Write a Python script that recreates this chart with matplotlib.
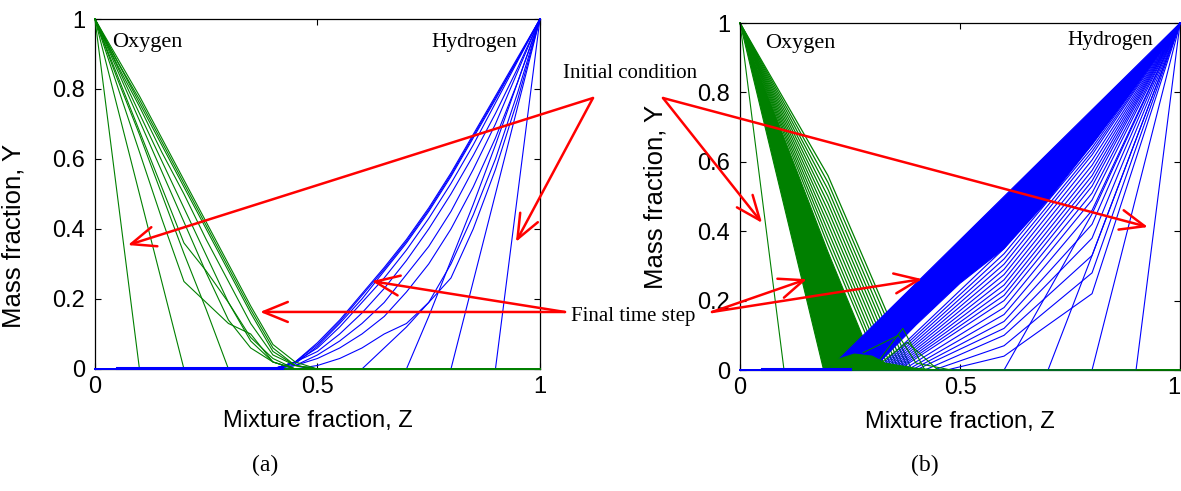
import matplotlib
matplotlib.use('Agg')
import matplotlib.pyplot as plt

# ---------------- panel (a) ----------------
# oxygen mass fraction, Y at these mixture fraction nodes
z_oxy_a = [0, 0.05, 0.1, 0.15, 0.2, 0.25, 0.3, 0.35, 0.4, 0.45, 0.5, 1.0]
oxy_a = [
    [1.00, 0.50, 0.00, 0.00, 0.00, 0.00, 0.00, 0.00, 0.00, 0.00, 0.00, 0.00],
    [1.00, 0.75, 0.50, 0.25, 0.00, 0.00, 0.00, 0.00, 0.00, 0.00, 0.00, 0.00],
    [1.00, 0.83, 0.67, 0.50, 0.33, 0.17, 0.00, 0.00, 0.00, 0.00, 0.00, 0.00],
    [1.00, 0.81, 0.62, 0.43, 0.25, 0.19, 0.13, 0.10, 0.02, 0.00, 0.00, 0.00],
    [1.00, 0.84, 0.68, 0.52, 0.36, 0.28, 0.19, 0.09, 0.03, 0.00, 0.00, 0.00],
    [1.00, 0.855, 0.71, 0.565, 0.42, 0.275, 0.14, 0.06, 0.02, 0.00, 0.00, 0.00],
    [1.00, 0.865, 0.73, 0.595, 0.46, 0.325, 0.19, 0.08, 0.02, 0.00, 0.00, 0.00],
    [1.00, 0.87, 0.75, 0.62, 0.50, 0.37, 0.25, 0.13, 0.04, 0.01, 0.00, 0.00],
    [1.00, 0.88, 0.76, 0.64, 0.52, 0.40, 0.28, 0.16, 0.05, 0.01, 0.00, 0.00],
    [1.00, 0.88, 0.77, 0.65, 0.53, 0.41, 0.29, 0.17, 0.06, 0.01, 0.00, 0.00],
    [1.00, 0.89, 0.78, 0.66, 0.54, 0.42, 0.30, 0.18, 0.07, 0.02, 0.00, 0.00],
]

# hydrogen mass fraction
z_hyd_a = [0, 0.4, 0.45, 0.5, 0.55, 0.6, 0.65, 0.7, 0.75, 0.8, 0.85, 0.9, 0.95, 1.0]
hyd_a = [
    [0, 0, 0, 0, 0, 0, 0, 0, 0, 0, 0, 0, 0.50, 1],
    [0, 0, 0, 0, 0, 0, 0, 0, 0, 0, 0.25, 0.50, 0.75, 1],
    [0, 0, 0, 0, 0, 0, 0, 0, 0.15, 0.31, 0.47, 0.64, 0.82, 1],
    [0, 0, 0, 0, 0, 0, 0.06, 0.12, 0.19, 0.26, 0.40, 0.57, 0.77, 1],
    [0, 0, 0, 0.01, 0.03, 0.06, 0.10, 0.13, 0.19, 0.30, 0.44, 0.60, 0.79, 1],
    [0, 0, 0.01, 0.03, 0.06, 0.10, 0.15, 0.22, 0.30, 0.40, 0.52, 0.66, 0.82, 1],
    [0, 0, 0.01, 0.04, 0.08, 0.13, 0.19, 0.27, 0.35, 0.45, 0.57, 0.70, 0.85, 1],
    [0, 0, 0.02, 0.05, 0.10, 0.16, 0.23, 0.31, 0.40, 0.50, 0.61, 0.73, 0.86, 1],
    [0, 0, 0.02, 0.06, 0.12, 0.19, 0.26, 0.34, 0.43, 0.53, 0.64, 0.76, 0.88, 1],
    [0, 0, 0.015, 0.065, 0.13, 0.20, 0.28, 0.36, 0.45, 0.55, 0.66, 0.77, 0.885, 1],
    [0, 0, 0.02, 0.07, 0.135, 0.21, 0.285, 0.365, 0.455, 0.555, 0.665, 0.775, 0.885, 1],
    [0, 0, 0.02, 0.075, 0.14, 0.215, 0.29, 0.37, 0.46, 0.56, 0.67, 0.78, 0.89, 1],
]
hyd_floor_a_z = [0.05, 0.42]
hyd_floor_a_y = [0.004, 0.004]

# ---------------- panel (b) ----------------
oxy_init_b_z = [0, 0.1, 1.0]
oxy_init_b_y = [1, 0, 0]
# solid part of the oxygen band
oxy_band_b_z = [0.0, 0.20, 0.31, 0.19]
oxy_band_b_y = [1.0, 0.34, 0.00, 0.00]
# striped part: Y at Z=0.2 and end point
oxy_stripe_y02 = [0.36, 0.38, 0.40, 0.42, 0.44, 0.46, 0.48, 0.50, 0.52, 0.54, 0.56]
oxy_stripe_end = [0.320, 0.326, 0.333, 0.340, 0.347, 0.354, 0.361, 0.368, 0.375, 0.383, 0.390]
oxy_mound_z = [0.20, 0.22, 0.26, 0.30, 0.33, 0.40, 0.45]
oxy_mound_y = [0.00, 0.03, 0.046, 0.04, 0.02, 0.005, 0.0]
oxy_tents_b = [
    ([0.30, 0.37, 0.42], [0.0, 0.12, 0.0]),
    ([0.32, 0.38, 0.45], [0.02, 0.08, 0.0]),
    ([0.28, 0.36, 0.40, 0.48], [0.05, 0.10, 0.02, 0.0]),
]
oxy_floor_b_z = [0.19, 1.0]
oxy_floor_b_y = [0.0, 0.0]

# solid hydrogen wedge
hyd_wedge_b_z = [0.20, 1.00, 0.90, 0.80, 0.70, 0.60, 0.50, 0.40, 0.30]
hyd_wedge_b_y = [0.00, 1.00, 0.82, 0.65, 0.49, 0.35, 0.25, 0.13, 0.00]
# individual hydrogen curves: start point, Y at Z=0.6, Y at Z=0.8
hyd_b_start = [0.90, 0.80, 0.70, 0.60, 0.47, 0.44, 0.42, 0.40, 0.39, 0.38, 0.37,
               0.36, 0.355, 0.35, 0.345, 0.34, 0.335, 0.33, 0.325, 0.32, 0.315, 0.31]
hyd_b_y06 = [0, 0, 0, 0, 0.04, 0.07, 0.10, 0.12, 0.14, 0.16, 0.18,
             0.20, 0.215, 0.23, 0.245, 0.26, 0.275, 0.29, 0.305, 0.32, 0.335, 0.35]
hyd_b_y08 = [0, 0, 0.33, 0.45, 0.22, 0.28, 0.33, 0.38, 0.42, 0.46, 0.49,
             0.51, 0.53, 0.545, 0.56, 0.575, 0.59, 0.605, 0.62, 0.63, 0.64, 0.65]
hyd_floor_b_z = [0.05, 0.25]
hyd_floor_b_y = [0.004, 0.004]

GREEN = '#008000'
BLUE = '#0000ff'
RED = '#ff0000'
SANS = 'Liberation Sans'
SERIF = 'Liberation Serif'

fig = plt.figure(figsize=(11.81, 4.91), dpi=100)
ax_a = fig.add_axes([0.0804, 0.2485, 0.3768, 0.7128])
ax_b = fig.add_axes([0.6266, 0.2464, 0.3726, 0.7067])


def style_axes(ax, ylab_x, ylab_y):
    ax.set_xlim(0, 1)
    ax.set_ylim(0, 1)
    ax.set_xticks([0, 0.5, 1])
    ax.set_xticklabels(['0', '0.5', '1'])
    ax.set_yticks([0, 0.2, 0.4, 0.6, 0.8, 1])
    ax.set_yticklabels(['0', '0.2', '0.4', '0.6', '0.8', '1'])
    ax.tick_params(direction='in', top=True, right=True, length=4, width=0.8,
                   labelsize=17, pad=7)
    ax.tick_params(axis='x', pad=5)
    for lab in ax.get_xticklabels() + ax.get_yticklabels():
        lab.set_family(SANS)
    for sp in ax.spines.values():
        sp.set_linewidth(0.9)
    ax.set_xlabel('Mixture fraction, Z', fontsize=17, family=SANS, labelpad=9)
    ax.set_ylabel('Mass fraction, Y', fontsize=18.5, family=SANS)
    ax.yaxis.set_label_coords(ylab_x, ylab_y)


def line(ax, z, y, color, lw=0.8, zorder=3):
    ax.plot(z, y, color=color, lw=lw, zorder=zorder, clip_on=False)


# panel (a)
for ys in hyd_a:
    line(ax_a, z_hyd_a, ys, BLUE, zorder=3)
for ys in oxy_a:
    line(ax_a, z_oxy_a, ys, GREEN, zorder=4)
line(ax_a, hyd_floor_a_z, hyd_floor_a_y, BLUE, lw=2.2, zorder=5)
style_axes(ax_a, -0.155, 0.38)

# panel (b)
ax_b.fill(oxy_band_b_z, oxy_band_b_y, color=GREEN, lw=0.8, zorder=2)
line(ax_b, oxy_init_b_z, oxy_init_b_y, GREEN, zorder=2)
for y2, e in zip(oxy_stripe_y02, oxy_stripe_end):
    line(ax_b, [0, 0.2, e, 1.0], [1, y2, 0, 0], GREEN, lw=0.9, zorder=2)
ax_b.fill(hyd_wedge_b_z, hyd_wedge_b_y, color=BLUE, lw=0.8, zorder=3)
for s, y6, y8 in zip(hyd_b_start, hyd_b_y06, hyd_b_y08):
    zs, ys = [0, s], [0, 0]
    for zn, yn in ((0.6, y6), (0.8, y8)):
        if zn > s:
            zs.append(zn)
            ys.append(yn)
    zs.append(1.0)
    ys.append(1.0)
    line(ax_b, zs, ys, BLUE, lw=0.8, zorder=3)
ax_b.fill(oxy_mound_z, oxy_mound_y, color=GREEN, lw=0.8, zorder=4)
for zs, ys in oxy_tents_b:
    line(ax_b, zs, ys, GREEN, zorder=4)
line(ax_b, oxy_floor_b_z, oxy_floor_b_y, GREEN, lw=1.2, zorder=4)
line(ax_b, hyd_floor_b_z, hyd_floor_b_y, BLUE, lw=2.2, zorder=5)
style_axes(ax_b, -0.165, 0.50)
ax_b.get_xticklabels()[-1].set_horizontalalignment('right')

# species labels
ax_a.text(0.038, 0.934, 'Oxygen', fontsize=16, family=SERIF, va='center', ha='left')
ax_a.text(0.948, 0.934, 'Hydrogen', fontsize=15.5, family=SERIF, va='center', ha='right')
ax_b.text(0.057, 0.942, 'Oxygen', fontsize=16, family=SERIF, va='center', ha='left')
ax_b.text(0.939, 0.950, 'Hydrogen', fontsize=15.5, family=SERIF, va='center', ha='right')

fig.text(0.5334, 0.8513, 'Initial condition', fontsize=15, family=SERIF, ha='center', va='center')
fig.text(0.536, 0.3564, 'Final time step', fontsize=15, family=SERIF, ha='center', va='center')
fig.text(0.2244, 0.053, '(a)', fontsize=17, family=SERIF, ha='center', va='center')
fig.text(0.783, 0.053, '(b)', fontsize=17, family=SERIF, ha='center', va='center')

# arrows: (axes, tip in data coords, start in figure fraction)
arrows = [
    (ax_a, (0.074, 0.354), (0.5021, 0.8004)),
    (ax_a, (0.946, 0.363), (0.5021, 0.8004)),
    (ax_b, (0.050, 0.424), (0.5614, 0.8004)),
    (ax_b, (0.927, 0.412), (0.5614, 0.8004)),
    (ax_a, (0.371, 0.163), (0.4784, 0.3646)),
    (ax_a, (0.622, 0.251), (0.4784, 0.3646)),
    (ax_b, (0.152, 0.262), (0.6029, 0.3646)),
    (ax_b, (0.414, 0.262), (0.6029, 0.3646)),
]
for ax, tip, start in arrows:
    ax.annotate('', xy=tip, xycoords='data', xytext=start, textcoords='figure fraction',
                arrowprops=dict(arrowstyle='->,head_length=1.1,head_width=0.45',
                                color=RED, lw=1.8, shrinkA=0, shrinkB=0,
                                mutation_scale=16),
                annotation_clip=False, zorder=10)

fig.savefig('out.png', dpi=100)
